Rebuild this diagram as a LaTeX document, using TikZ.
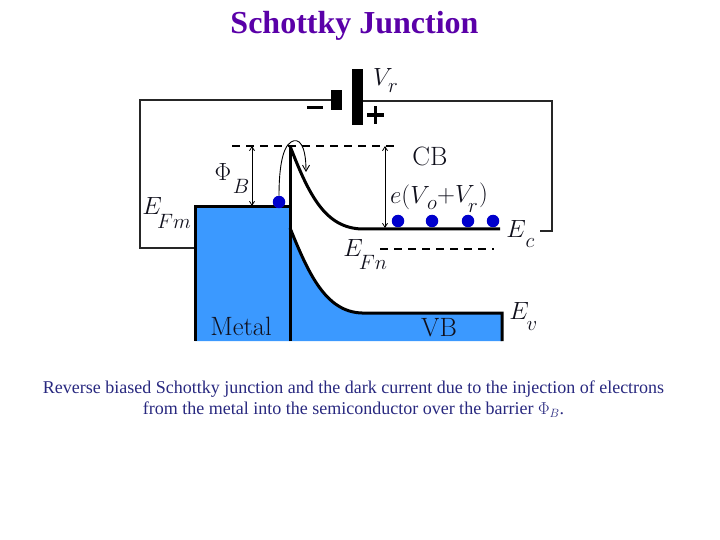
\documentclass[tikz,border=0pt]{standalone}
\usepackage{fontspec}
\newfontfamily\capfont{Liberation Serif}
\usetikzlibrary{arrows.meta}
\definecolor{metalblue}{HTML}{3B99FF}
\definecolor{titlepurple}{HTML}{5A00A8}
\definecolor{capblue}{HTML}{28287F}
\definecolor{dotblue}{HTML}{0000CC}
\definecolor{labink}{HTML}{10101C}
\tikzset{
  wire/.style={line width=1.5pt,draw=black!85},
  band/.style={line width=3pt,draw=black},
  dashline/.style={line width=1.4pt,dash pattern=on 8pt off 6pt},
  dimarrow/.style={line width=0.8pt,{Straight Barb[length=4pt,width=5pt]}-{Straight Barb[length=4pt,width=5pt]}},
  electron/.style={circle,fill=dotblue,inner sep=0pt,minimum size=12.5pt},
  lab/.style={inner sep=0pt,text=labink,font=\fontsize{26.5}{26.5}\selectfont},
  sub/.style={inner sep=0pt,text=labink,font=\fontsize{20}{20}\selectfont},
  plate/.style={fill=black,inner sep=0pt,draw=none}
}
\begin{document}
\begin{tikzpicture}[x=1pt,y=-1pt]
\useasboundingbox (0,0) rectangle (720,540);
% coordinates
\coordinate (wl) at (140,100);
\coordinate (wlb) at (140,248);
\coordinate (wr) at (552,101);
\coordinate (wrb) at (552,231);
\coordinate (wre) at (540,231);
% battery
\node[plate,minimum width=11pt,minimum height=20pt] (pn) at (336.5,100) {};
\node[plate,minimum width=11pt,minimum height=56pt] (pp) at (357.5,97) {};
\fill (307,106.5) rectangle (323,109.5);
\fill (367,113.2) rectangle (384,116.8);
\fill (373.7,106) rectangle (377.3,124);
% metal + semiconductor
\fill[metalblue] (195,341) -- (195,207) -- (290,207) -- (290,228) .. controls (308,272) and (325,312) .. (362,313) -- (502,313) -- (502,341) -- cycle;
\node[coordinate] (mtl) at (195,207) {};
\node[coordinate] (mtr) at (290,207) {};
\draw[wire] (pn.west |- wl) -- (wl) -- (wlb) -- (195,248);
\draw[wire] (pp.east |- wr) -- (wr) -- (wrb) -- (wre);
\draw[band] (195,341) -- (mtl) -- (mtr);
\draw[band] (290,341) -- (290,146);
\draw[band] (290,146) .. controls (309,195) and (325,228) .. (362,229) -- (500,229);
\draw[band] (290,228) .. controls (308,272) and (325,312) .. (362,313) -- (502,313) -- (502,341);
% dashed
\draw[dashline] (232,146) -- (397,146);
\draw[dashline] (380,249) -- (494,249);
% arrows
\coordinate (phit) at (252,146);
\coordinate (phib) at (252,206);
\draw[dimarrow] (phit) -- (phib);
\coordinate (et) at (385,146);
\coordinate (eb) at (385,228);
\draw[dimarrow] (et) -- (eb);
% electrons
\node[electron] (e0) at (279,202) {};
\node[electron] (e1) at (398,221) {};
\node[electron] (e2) at (432,221) {};
\node[electron] (e3) at (468,221) {};
\node[electron] (e4) at (493,221) {};
\coordinate (hop) at (306,172);
\draw[line width=0.9pt,-{Straight Barb[length=6pt,width=7pt]}] (e0.north) .. controls (279,175) and (281,148) .. (291,142) .. controls (299,137) and (306,145) .. (hop);
% labels
\node[lab,font=\fontsize{36}{36}\selectfont] (lphi) at (223,172) {$\Phi$};
\node[sub] (lphib) at (241,186) {$B$};
\node[lab] (lefm) at (152,206) {$E$};
\node[sub] (lefms) at (174,221) {$Fm$};
\node[lab] (lvr) at (383,77) {$V$};
\node[sub] (lvrs) at (393,88) {$r$};
\node[lab] (lcb) at (430,156) {CB};
\node[lab,anchor=west] (lev) at (390,197) {$e(V$};
\node[sub] (levo) at (432,205) {$o$};
\node[lab,anchor=west] (levr) at (437,195) {$+V$};
\node[sub] (levs) at (473,208) {$r$};
\node[lab,anchor=west] (levp) at (479,195) {$)$};
\node[lab] (lec) at (516,229) {$E$};
\node[sub] (lecs) at (530,243) {$c$};
\node[lab] (lefn) at (353,248) {$E$};
\node[sub] (lefns) at (373,262) {$Fn$};
\node[lab] (lev2) at (519,311) {$E$};
\node[sub] (levs2) at (532,326) {$v$};
\node[lab] (lmetal) at (241,326) {Metal};
\node[lab] (lvb) at (439,328) {VB};
% text
\node[inner sep=0pt,text=titlepurple,font=\capfont\fontsize{32}{32}\selectfont\bfseries] (title) at (354.5,26) {Schottky Junction};
\node[inner sep=0pt,text=capblue,font=\capfont\fontsize{18}{21}\selectfont,align=center] (cap) at (353.5,399) {Reverse biased Schottky junction and the dark current due to the injection of electrons\\from the metal into the semiconductor over the barrier $\Phi_{B}$.};
\end{tikzpicture}
\end{document}
